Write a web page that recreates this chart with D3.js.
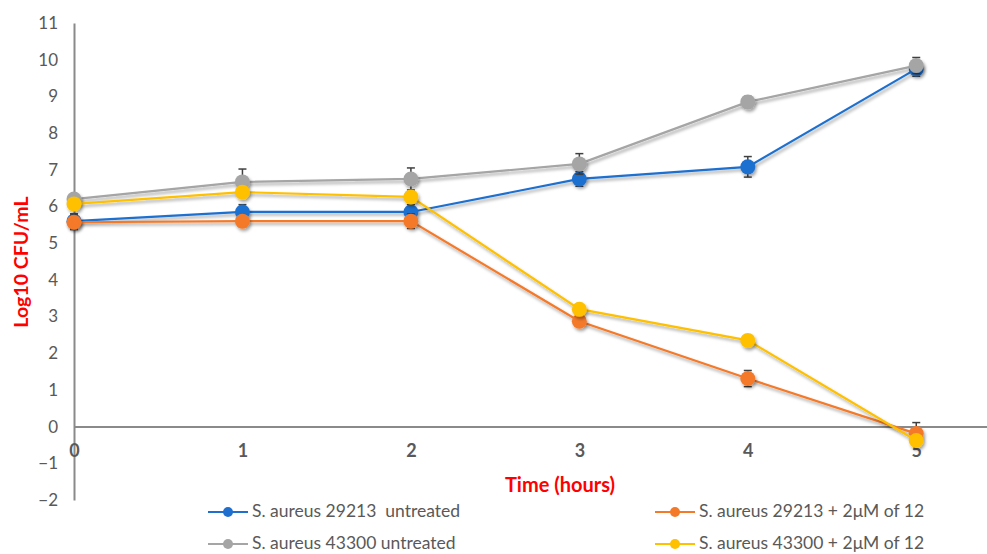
<!DOCTYPE html>
<html><head><meta charset="utf-8">
<script src="https://cdn.jsdelivr.net/npm/d3@7"></script>
<style>
html,body{margin:0;padding:0;background:#fff;}
svg{display:block;}
</style></head>
<body>
<svg id="chart" width="987" height="554"></svg>
<script>
const hours = [0, 1, 2, 3, 4, 5];
const seriesNames = ["S. aureus 29213  untreated", "S. aureus 29213 + 2μM of 12", "S. aureus 43300 untreated", "S. aureus 43300 + 2μM of 12"];
const seriesColors = ["#1f6fcf", "#f47a2a", "#a5a5a5", "#ffc000"];
const blueValues   = [5.60, 5.85, 5.85, 6.75, 7.08, 9.75];
const orangeValues = [5.57, 5.60, 5.60, 2.87, 1.31, -0.19];
const grayValues   = [6.20, 6.67, 6.75, 7.16, 8.85, 9.84];
const yellowValues = [6.07, 6.39, 6.26, 3.20, 2.35, -0.38];
const blueErr   = [0.20, 0.20, 0.20, 0.20, 0.28, 0.20];
const orangeErr = [0.20, 0.15, 0.20, 0.10, 0.22, 0.30];
const grayErr   = [0.12, 0.35, 0.30, 0.28, 0.15, 0.22];
const yellowErr = [0.10, 0.10, 0.12, 0.10, 0.12, 0.10];
const yTicks = [-2, -1, 0, 1, 2, 3, 4, 5, 6, 7, 8, 9, 10, 11];
const xTicks = [0, 1, 2, 3, 4, 5];

const series = [
  {name: seriesNames[0], color: seriesColors[0], values: blueValues, err: blueErr},
  {name: seriesNames[1], color: seriesColors[1], values: orangeValues, err: orangeErr},
  {name: seriesNames[2], color: seriesColors[2], values: grayValues, err: grayErr},
  {name: seriesNames[3], color: seriesColors[3], values: yellowValues, err: yellowErr}
];

const svg = d3.select("#chart");
const x = d3.scaleLinear().domain([0, 5.42]).range([74, 987]);
const y = d3.scaleLinear().domain([-2, 11]).range([500, 23]);

const defs = svg.append("defs");
const f = defs.append("filter").attr("id","shadow").attr("x","-50%").attr("y","-50%").attr("width","200%").attr("height","200%");
f.append("feDropShadow").attr("dx",1.5).attr("dy",2.5).attr("stdDeviation",1.6).attr("flood-color","#000").attr("flood-opacity",0.35);

// Y axis
const yAxis = d3.axisLeft(y).tickValues(yTicks).tickSize(0).tickPadding(16)
  .tickFormat(d => d < 0 ? "\u2212" + Math.abs(d) : d);
const gy = svg.append("g").attr("transform", `translate(${x(0)},0)`).call(yAxis);
gy.select(".domain").attr("stroke", "#8a8a8a").attr("stroke-width", 2);
gy.selectAll("text").attr("fill", "#595959").attr("font-family", "Lato, 'Open Sans', sans-serif").attr("font-size", 17);

// X axis at y=0
const xAxis = d3.axisBottom(x).tickValues(xTicks).tickSize(0).tickPadding(18).tickFormat(d3.format("d"));
const gx = svg.append("g").attr("transform", `translate(0,${y(0)})`).call(xAxis);
gx.select(".domain").attr("stroke", "#8a8a8a").attr("stroke-width", 2);
gx.selectAll("text").attr("fill", "#595959").attr("font-family", "Lato, 'Open Sans', sans-serif").attr("font-size", 18).attr("font-weight", "bold");

// Axis titles
svg.append("text").attr("x", 560).attr("y", 492).attr("text-anchor", "middle")
  .attr("fill", "#ff0000").attr("font-family", "Lato, 'Open Sans', sans-serif").attr("font-weight", "bold").attr("font-size", 20)
  .text("Time (hours)");
svg.append("text").attr("transform", "translate(28,262) rotate(-90)").attr("text-anchor", "middle")
  .attr("fill", "#ff0000").attr("font-family", "Lato, 'Open Sans', sans-serif").attr("font-weight", "bold").attr("font-size", 19.5)
  .text("Log10 CFU/mL");

const line = d3.line().x((d, i) => x(hours[i])).y(d => y(d));
const plot = svg.append("g");

series.forEach(s => {
  const g = plot.append("g");
  // error bars
  const eb = g.append("g").attr("stroke", "#404040").attr("stroke-width", 1.5);
  s.values.forEach((v, i) => {
    const cx = x(hours[i]), y1 = y(v + s.err[i]), y2 = y(v - s.err[i]);
    eb.append("line").attr("x1", cx).attr("x2", cx).attr("y1", y1).attr("y2", y2);
    eb.append("line").attr("x1", cx - 4).attr("x2", cx + 4).attr("y1", y1).attr("y2", y1);
    eb.append("line").attr("x1", cx - 4).attr("x2", cx + 4).attr("y1", y2).attr("y2", y2);
  });
  g.append("path").datum(s.values).attr("d", line).attr("fill", "none")
    .attr("stroke", s.color).attr("stroke-width", 2.2).attr("filter", "url(#shadow)");
  g.selectAll("circle").data(s.values).enter().append("circle")
    .attr("cx", (d, i) => x(hours[i])).attr("cy", d => y(d)).attr("r", 7.5)
    .attr("fill", s.color).attr("filter", "url(#shadow)");
});

// Legend
const legendPos = [[208, 512], [655, 512], [208, 544], [655, 544]];
series.forEach((s, i) => {
  const [lx, ly] = legendPos[i];
  const g = svg.append("g").attr("transform", `translate(${lx},${ly})`);
  g.append("line").attr("x1", 0).attr("x2", 40).attr("y1", 0).attr("y2", 0).attr("stroke", s.color).attr("stroke-width", 2.2);
  g.append("circle").attr("cx", 20).attr("cy", 0).attr("r", 5).attr("fill", s.color);
  g.append("text").attr("x", 44).attr("y", 5).attr("fill", "#595959").style("white-space", "pre")
    .attr("font-family", "Lato, 'Open Sans', sans-serif").attr("font-size", 17.5).text(s.name);
});
</script>
</body></html>
